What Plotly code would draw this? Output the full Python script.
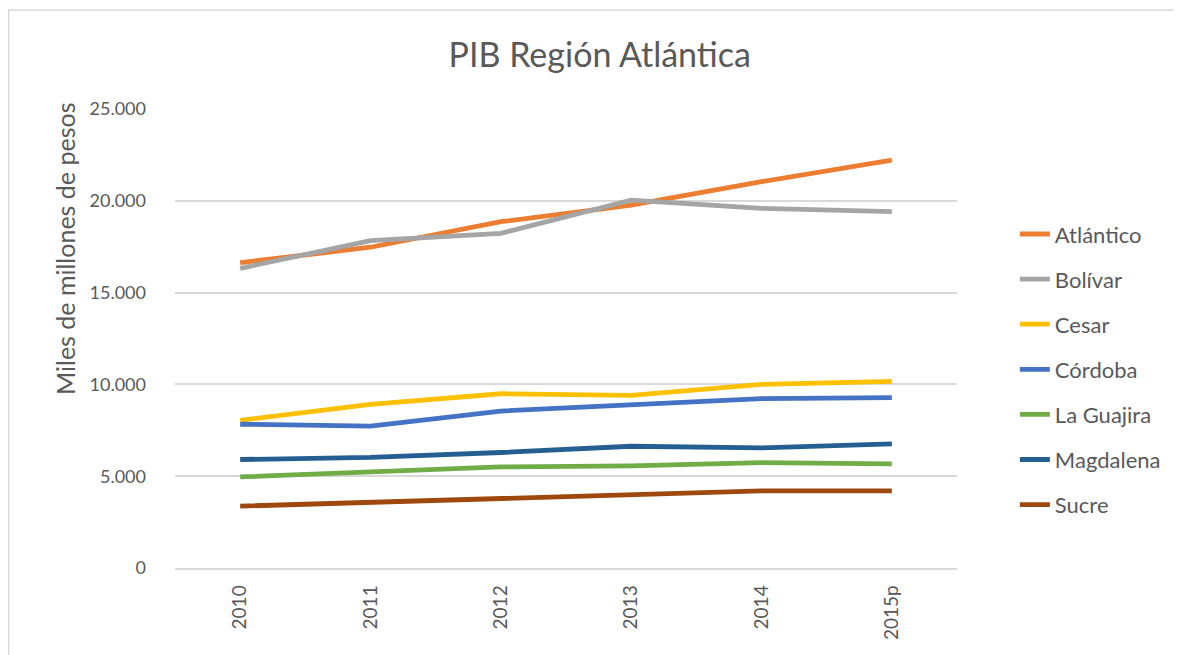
import plotly.graph_objects as go

years = ["2010", "2011", "2012", "2013", "2014", "2015p"]
atlantico = [16630, 17470, 18860, 19770, 21040, 22220]
bolivar = [16320, 17830, 18230, 20040, 19590, 19410]
cesar = [8040, 8910, 9490, 9400, 10000, 10160]
cordoba = [7830, 7730, 8550, 8890, 9220, 9280]
la_guajira = [4960, 5250, 5510, 5560, 5740, 5670]
magdalena = [5910, 6020, 6290, 6630, 6540, 6760]
sucre = [3370, 3570, 3790, 4010, 4200, 4200]

series = [
    ("Atlántico", atlantico, "#ED7D31"),
    ("Bolívar", bolivar, "#A5A5A5"),
    ("Cesar", cesar, "#FFC000"),
    ("Córdoba", cordoba, "#4472C4"),
    ("La Guajira", la_guajira, "#70AD47"),
    ("Magdalena", magdalena, "#255E91"),
    ("Sucre", sucre, "#9E480E"),
]

font_family = "Lato, 'Open Sans', sans-serif"
txt = "#595959"

fig = go.Figure()
for name, vals, color in series:
    fig.add_trace(go.Scatter(
        x=years, y=vals, name=name, mode="lines",
        line=dict(color=color, width=4.8),
        legendgroup=name,
    ))

fig.update_layout(
    width=1174, height=647,
    margin=dict(l=167, r=225, t=101, b=87),
    paper_bgcolor="white", plot_bgcolor="white",
    font=dict(family=font_family, color=txt),
    title=dict(text="PIB Región Atlántica", x=0.504, xanchor="center",
               y=0.927, yanchor="middle",
               font=dict(size=34, color=txt, family=font_family)),
    legend=dict(x=1.074, xanchor="left", y=0.773, yanchor="top",
                font=dict(size=22, color=txt, family=font_family),
                tracegroupgap=13.5, bgcolor="rgba(0,0,0,0)"),
    showlegend=True,
    separators=",.",
)
fig.update_xaxes(
    type="category", showgrid=False, showline=True, linecolor="#D9D9D9",
    linewidth=1.5, tickangle=-90, ticks="",
    tickfont=dict(size=19, color=txt, family=font_family),
    ticklabelstandoff=8,
    range=[-0.5, 5.5],
)
fig.update_yaxes(
    range=[0, 25000], dtick=5000, tickformat=",.0f",
    showgrid=True, gridcolor="#D9D9D9", gridwidth=1.5, zeroline=False,
    tickfont=dict(size=18, color=txt, family=font_family),
    ticklabelstandoff=28,
    ticks="",
)
fig.add_annotation(
    text="Miles de millones de pesos", xref="paper", yref="paper",
    x=-0.1407, y=0.697, xanchor="center", yanchor="middle",
    textangle=-90, showarrow=False,
    font=dict(size=25, color=txt, family=font_family),
)
fig.add_shape(type="rect", xref="paper", yref="paper",
              x0=-0.2129, x1=1.35, y0=-0.35, y1=1.2157,
              line=dict(color="#D9D9D9", width=1.5), fillcolor="rgba(0,0,0,0)",
              layer="below")

fig.write_html("out.html")
